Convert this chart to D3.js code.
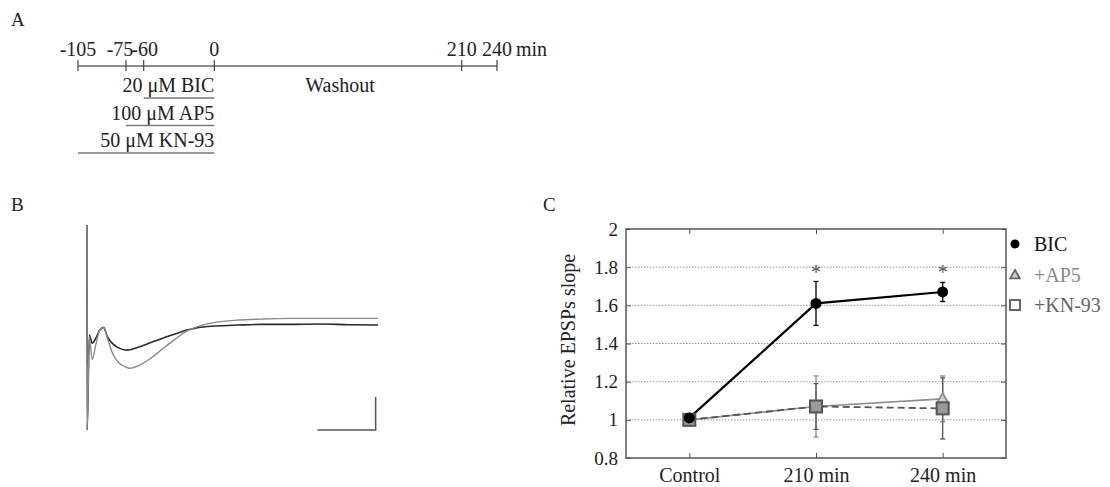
<!DOCTYPE html>
<html>
<head>
<meta charset="utf-8">
<script src="https://cdn.jsdelivr.net/npm/d3@7"></script>
<style>
  body { margin: 0; background: #fff; }
  svg { display: block; font-family: "Liberation Serif", "Times New Roman", serif; }
</style>
</head>
<body>
<svg id="canvas"></svg>
<script>
// ---- panel A: protocol timeline ----
let timeTicks = [-105, -75, -60, 0, 210, 240];
let drugNames = ["20 \u03bcM BIC", "100 \u03bcM AP5", "50 \u03bcM KN-93"];
let drugStart = [-60, -75, -105];
let drugEnd = [0, 0, 0];

// ---- panel B: example traces (ms, mV) ----
let traceTime = [0, 0.03, 0.4, 0.9, 1.5, 2.2, 2.85, 3.5, 4.5, 5.5, 6.9, 7.4, 9, 11, 13, 15, 17, 19, 22, 26, 30, 35, 40, 45, 50];
let traceBIC = [3.03, -3.18, -0.3, -0.55, -0.4, -0.15, -0.07, -0.35, -0.58, -0.7, -0.76, -0.75, -0.66, -0.53, -0.4, -0.28, -0.16, -0.08, -0.03, 0.0, 0.02, 0.02, 0.03, 0.01, 0.0];
let traceGray = [3.03, -3.18, -0.35, -1.05, -0.6, -0.15, -0.07, -0.4, -0.9, -1.15, -1.29, -1.31, -1.22, -1.0, -0.72, -0.45, -0.2, -0.05, 0.08, 0.15, 0.18, 0.2, 0.2, 0.2, 0.2];

// ---- panel C: relative EPSP slope ----
let categories = ["Control", "210 min", "240 min"];
let bicMean = [1.01, 1.61, 1.67];
let bicErr = [0.02, 0.115, 0.05];
let ap5Mean = [1.0, 1.07, 1.11];
let ap5Err = [0.02, 0.16, 0.12];
let knMean = [1.0, 1.07, 1.06];
let knErr = [0.02, 0.12, 0.16];
let starCats = ["210 min", "240 min"];
let starLevel = 1.8;
let yTicks = [0.8, 1, 1.2, 1.4, 1.6, 1.8, 2];

let canvas = d3.select("#canvas").attr("width", 1110).attr("height", 487);
let ink = "#222";

// panel letters
canvas.append("text").attr("x", 11).attr("y", 26).text("A").attr("font-size", 19).attr("fill", ink);
canvas.append("text").attr("x", 11).attr("y", 211).text("B").attr("font-size", 19).attr("fill", ink);
canvas.append("text").attr("x", 543).attr("y", 211).text("C").attr("font-size", 19).attr("fill", ink);

// ================= A =================
let tx = d3.scaleLinear().domain([-105, -75, 240]).range([78, 126, 497]);
let lineY = 66;
let fontA = 20;
let gA = canvas.append("g");

gA.append("line")
  .attr("x1", tx(-105)).attr("x2", tx(240))
  .attr("y1", lineY).attr("y2", lineY)
  .attr("stroke", "#666").attr("stroke-width", 1.5);

gA.selectAll(".tick")
  .data(timeTicks)
  .enter()
  .append("line")
  .attr("x1", (d) => tx(d)).attr("x2", (d) => tx(d))
  .attr("y1", lineY - 6).attr("y2", lineY + 5)
  .attr("stroke", "#444").attr("stroke-width", 1.2);

gA.selectAll(".tlab")
  .data(timeTicks)
  .enter()
  .append("text")
  .attr("x", (d) => tx(d) + (d === -75 ? -6 : d === -60 ? 1 : 0))
  .attr("y", 56)
  .attr("text-anchor", "middle")
  .attr("font-size", fontA)
  .attr("fill", ink)
  .text((d) => d);

gA.append("text").attr("x", tx(240) + 19).attr("y", 56)
  .attr("font-size", fontA).attr("fill", ink).text("min");

gA.append("text").attr("x", 340).attr("y", 92)
  .attr("text-anchor", "middle").attr("font-size", fontA).attr("fill", ink).text("Washout");

drugNames.forEach((name, i) => {
  let base = 92 + i * 27.5;
  gA.append("text")
    .attr("x", tx(drugEnd[i]))
    .attr("y", base)
    .attr("text-anchor", "end")
    .attr("font-size", fontA)
    .attr("fill", ink)
    .text(name);
  gA.append("line")
    .attr("x1", tx(drugStart[i])).attr("x2", tx(drugEnd[i]))
    .attr("y1", base + 6).attr("y2", base + 6)
    .attr("stroke", "#777").attr("stroke-width", 1.3);
});

// ================= B =================
let bx = d3.scaleLinear().domain([0, 50]).range([87, 378]);
let by = d3.scaleLinear().domain([-3.18, 3.03]).range([430, 225]);
let traceLine = (vals) =>
  d3.line()
    .x((d, i) => bx(traceTime[i]))
    .y((d) => by(d))
    .curve(d3.curveMonotoneX)(vals);

canvas.append("path").attr("d", traceLine(traceBIC))
  .attr("fill", "none").attr("stroke", "#2a2a2a").attr("stroke-width", 1.6);
canvas.append("path").attr("d", traceLine(traceGray))
  .attr("fill", "none").attr("stroke", "#8a8a8a").attr("stroke-width", 1.4);

// scale bar: 10 ms, 1 mV
let barT = 49.6;
canvas.append("path")
  .attr("d", "M" + bx(barT - 10) + "," + by(-3.18) + "H" + bx(barT) + "V" + by(-2.18))
  .attr("fill", "none").attr("stroke", "#555").attr("stroke-width", 1.5);

// ================= C =================
let x = d3.scalePoint().domain(categories).range([626, 1006]).padding(0.5);
let y = d3.scaleLinear().domain([0.8, 2]).range([458, 229]);
let gC = canvas.append("g");

// grid
gC.selectAll(".grid")
  .data(yTicks.slice(1, -1))
  .enter()
  .append("line")
  .attr("x1", 626).attr("x2", 1006)
  .attr("y1", (d) => y(d)).attr("y2", (d) => y(d))
  .attr("stroke", "#999").attr("stroke-width", 1).attr("stroke-dasharray", "1.5,1.5");

let styleAxis = (g, size) => {
  g.attr("font-family", null).attr("font-size", null);
  g.select(".domain").remove();
  g.selectAll("text").attr("font-size", size).attr("fill", ink);
  g.selectAll("line").attr("stroke", "#555");
};

gC.append("g").attr("transform", "translate(626,0)")
  .call(d3.axisLeft(y).tickValues(yTicks).tickSize(-5).tickPadding(8).tickFormat(d3.format("~g")))
  .call((g) => styleAxis(g, 19));

gC.append("g").attr("transform", "translate(1006,0)")
  .call(d3.axisRight(y).tickValues(yTicks).tickSize(-5).tickFormat(""))
  .call((g) => styleAxis(g, 19));

gC.append("g").attr("transform", "translate(0,458)")
  .call(d3.axisBottom(x).tickSize(-5).tickPadding(10))
  .call((g) => styleAxis(g, 20));

gC.append("g").attr("transform", "translate(0,229)")
  .call(d3.axisTop(x).tickSize(-5).tickFormat(""))
  .call((g) => styleAxis(g, 20));

gC.append("rect").attr("x", 626).attr("y", 229).attr("width", 380).attr("height", 229)
  .attr("fill", "none").attr("stroke", "#555").attr("stroke-width", 1.5);

gC.append("text")
  .attr("transform", "translate(575," + 340 + ") rotate(-90)")
  .attr("text-anchor", "middle")
  .attr("font-size", 20)
  .attr("fill", ink)
  .text("Relative EPSPs slope");

let series = [
  { mean: ap5Mean, err: ap5Err, color: "#8c8c8c", width: 1.6, dash: null, marker: "triangle" },
  { mean: knMean, err: knErr, color: "#555", width: 1.8, dash: "7,4", marker: "square" },
  { mean: bicMean, err: bicErr, color: "#000", width: 2.2, dash: null, marker: "circle" }
];

let lineGen = d3.line().x((d, i) => x(categories[i])).y((d) => y(d));

series.forEach((s) => {
  let g = gC.append("g");
  s.mean.forEach((m, i) => {
    let cx = x(categories[i]);
    g.append("line")
      .attr("x1", cx).attr("x2", cx)
      .attr("y1", y(m - s.err[i])).attr("y2", y(m + s.err[i]))
      .attr("stroke", s.color).attr("stroke-width", 1.3);
    [m - s.err[i], m + s.err[i]].forEach((v) => {
      g.append("line")
        .attr("x1", cx - 2.5).attr("x2", cx + 2.5)
        .attr("y1", y(v)).attr("y2", y(v))
        .attr("stroke", s.color).attr("stroke-width", 1.3);
    });
  });
  g.append("path").attr("d", lineGen(s.mean))
    .attr("fill", "none").attr("stroke", s.color).attr("stroke-width", s.width)
    .attr("stroke-dasharray", s.dash);
});

let drawMarker = (g, type, cx, cy, color, big) => {
  if (type === "circle") {
    g.append("circle").attr("cx", cx).attr("cy", cy).attr("r", big ? 5.5 : 4.5).attr("fill", "#000");
  } else if (type === "triangle") {
    g.append("path")
      .attr("d", d3.symbol(d3.symbolTriangle, big ? 60 : 40)())
      .attr("transform", "translate(" + cx + "," + (cy + 1) + ")")
      .attr("fill", "#ccc").attr("stroke", color).attr("stroke-width", 1.8);
  } else {
    let h = big ? 6 : 5;
    g.append("rect").attr("x", cx - h).attr("y", cy - h).attr("width", 2 * h).attr("height", 2 * h)
      .attr("fill", big ? "#999" : "#fff").attr("stroke", color).attr("stroke-width", 2);
  }
};

series.forEach((s) => {
  s.mean.forEach((m, i) => {
    drawMarker(gC, s.marker, x(categories[i]), y(m), s.color, true);
  });
});

gC.selectAll(".star")
  .data(starCats)
  .enter()
  .append("text")
  .attr("x", (d) => x(d))
  .attr("y", y(starLevel) + 12)
  .attr("text-anchor", "middle")
  .attr("font-size", 20)
  .attr("fill", "#555")
  .text("*");

// legend
let legendNames = ["BIC", "+AP5", "+KN-93"];
let legendColors = ["#111", "#888", "#666"];
legendNames.forEach((name, i) => {
  let ly = 244 + i * 30.5;
  drawMarker(canvas, series[(i + 2) % 3].marker, 1015, ly, i === 0 ? "#000" : "#666", false);
  canvas.append("text").attr("x", 1034).attr("y", ly + 7)
    .attr("font-size", 20).attr("fill", legendColors[i]).text(name);
});
</script>
</body>
</html>
